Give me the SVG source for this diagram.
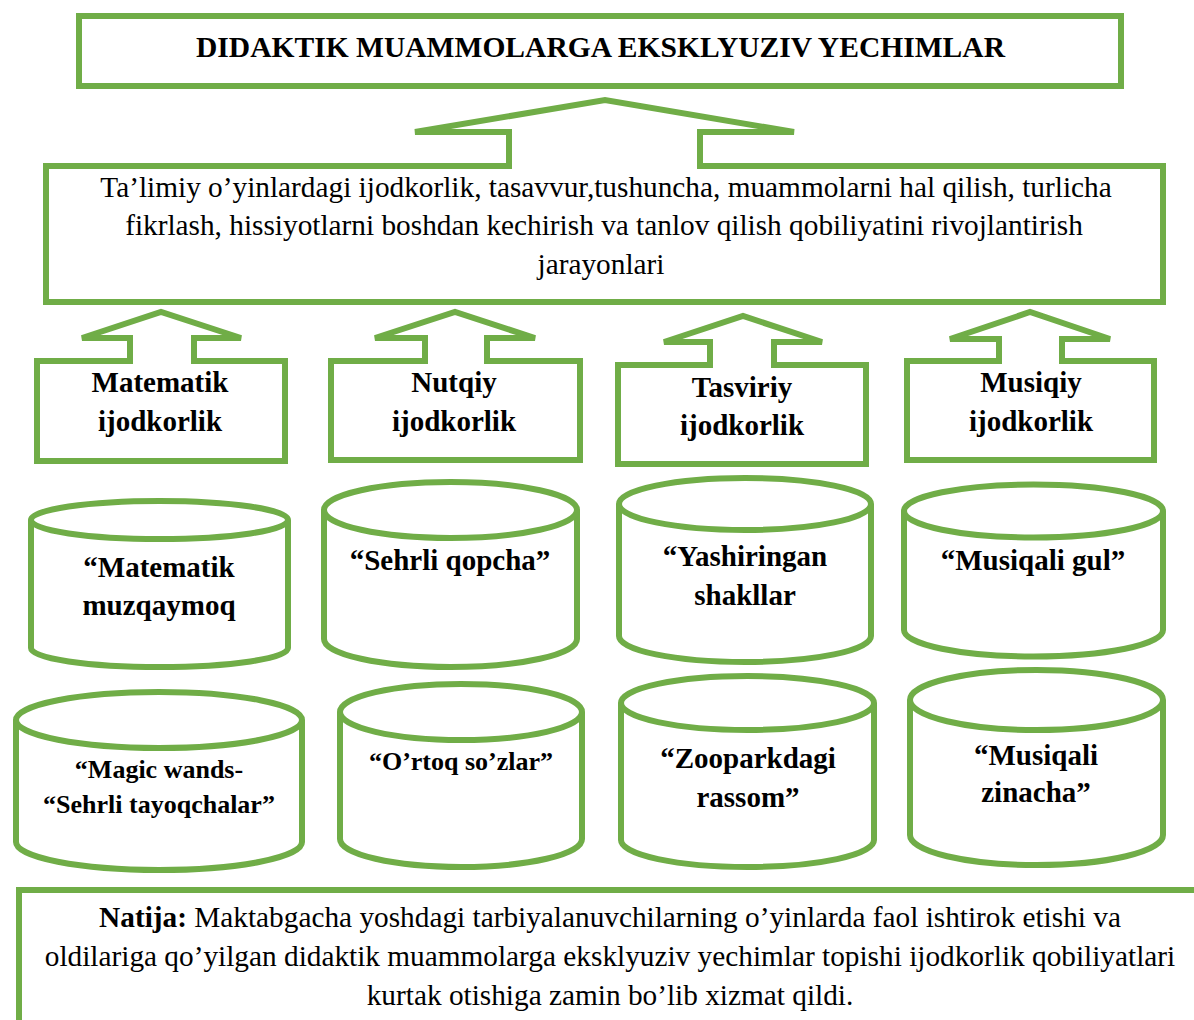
<svg xmlns="http://www.w3.org/2000/svg" width="1194" height="1020" viewBox="0 0 1194 1020">
<style>
.shp{fill:#fff;stroke:#70AD47;stroke-width:6;stroke-linejoin:miter;stroke-miterlimit:4}
text{font-family:Liberation Serif, Times New Roman, Times, serif;fill:#000;text-anchor:middle}
.b{font-weight:bold;font-size:29px}
.r{font-size:29.3px}
.s{font-weight:bold;font-size:26px}
</style>
<rect width="1194" height="1020" fill="#fff"/>
<g id="connectors"></g>
<g id="title">
<rect class="shp" x="79" y="16" width="1042" height="70"/>
<text class="b" x="600.5" y="57" textLength="809" lengthAdjust="spacingAndGlyphs">DIDAKTIK MUAMMOLARGA EKSKLYUZIV YECHIMLAR</text>
</g>
<g id="processes">
<path class="shp" d="M46,166 L509,166 L509,132 L415,132 L605,100 L794,132 L700,132 L700,166 L1163,166 L1163,302 L46,302 Z"/>
<text class="r" x="606" y="197">Ta’limiy o’yinlardagi ijodkorlik, tasavvur,tushuncha, muammolarni hal qilish, turlicha</text>
<text class="r" x="604" y="235">fikrlash, hissiyotlarni boshdan kechirish va tanlov qilish qobiliyatini rivojlantirish</text>
<text class="r" x="601" y="274">jarayonlari</text>
</g>
<g id="cat-matematik">
<path class="shp" d="M37,361 L130,361 L130,338 L82,338 L161,312 L241,338 L194,338 L194,361 L285,361 L285,461 L37,461 Z"/>
<text class="b" x="160" y="392">Matematik</text>
<text class="b" x="160" y="431">ijodkorlik</text>
</g>
<g id="cat-nutqiy">
<path class="shp" d="M331,361 L425,361 L425,338 L375,338 L455,312 L535,338 L487,338 L487,361 L580,361 L580,460 L331,460 Z"/>
<text class="b" x="454" y="392">Nutqiy</text>
<text class="b" x="454" y="431">ijodkorlik</text>
</g>
<g id="cat-tasviriy">
<path class="shp" d="M618,365 L710,365 L710,342 L664,342 L743,316 L822,342 L774,342 L774,365 L866,365 L866,464 L618,464 Z"/>
<text class="b" x="742" y="397">Tasviriy</text>
<text class="b" x="742" y="435">ijodkorlik</text>
</g>
<g id="cat-musiqiy">
<path class="shp" d="M907,361 L999,361 L999,339 L950,339 L1030,312 L1110,339 L1062,339 L1062,361 L1154,361 L1154,460 L907,460 Z"/>
<text class="b" x="1031" y="392">Musiqiy</text>
<text class="b" x="1031" y="431">ijodkorlik</text>
</g>
<g id="game-1">
<path class="shp" d="M31,520 L31,648 A128.5,19 0 0 0 288,648 L288,520"/>
<ellipse class="shp" cx="159.5" cy="520" rx="128.5" ry="19"/>
<text class="b" x="159" y="577">“Matematik</text>
<text class="b" x="159" y="615">muzqaymoq</text>
</g>
<g id="game-2">
<path class="shp" d="M324,510 L324,639 A126.5,28 0 0 0 577,639 L577,510"/>
<ellipse class="shp" cx="450.5" cy="510" rx="126.5" ry="28"/>
<text class="b" x="450" y="570">“Sehrli qopcha”</text>
</g>
<g id="game-3">
<path class="shp" d="M619,504 L619,636 A126,26 0 0 0 871,636 L871,504"/>
<ellipse class="shp" cx="745" cy="504" rx="126" ry="26"/>
<text class="b" x="745" y="566">“Yashiringan</text>
<text class="b" x="745" y="605">shakllar</text>
</g>
<g id="game-4">
<path class="shp" d="M904,511 L904,630 A129.5,26.5 0 0 0 1163,630 L1163,511"/>
<ellipse class="shp" cx="1033.5" cy="511" rx="129.5" ry="26.5"/>
<text class="b" x="1033" y="570">“Musiqali gul”</text>
</g>
<g id="game-5">
<path class="shp" d="M16,720 L16,842 A143,28 0 0 0 302,842 L302,720"/>
<ellipse class="shp" cx="159" cy="720" rx="143" ry="28"/>
<text class="s" x="159" y="778">“Magic wands-</text>
<text class="s" x="159" y="813">“Sehrli tayoqchalar”</text>
</g>
<g id="game-6">
<path class="shp" d="M340,712 L340,839 A121,28 0 0 0 582,839 L582,712"/>
<ellipse class="shp" cx="461" cy="712" rx="121" ry="28"/>
<text class="s" x="461" y="770">“O’rtoq so’zlar”</text>
</g>
<g id="game-7">
<path class="shp" d="M621,703 L621,840 A126.5,27 0 0 0 874,840 L874,703"/>
<ellipse class="shp" cx="747.5" cy="703" rx="126.5" ry="27"/>
<text class="b" x="748" y="768">“Zooparkdagi</text>
<text class="b" x="748" y="807">rassom”</text>
</g>
<g id="game-8">
<path class="shp" d="M910,700 L910,835 A126.5,30 0 0 0 1163,835 L1163,700"/>
<ellipse class="shp" cx="1036.5" cy="700" rx="126.5" ry="30"/>
<text class="b" x="1036" y="765">“Musiqali</text>
<text class="b" x="1036" y="802">zinacha”</text>
</g>
<g id="result">
<rect class="shp" x="19" y="890" width="1200" height="200"/>
<text class="r" x="610" y="927"><tspan font-weight="bold">Natija:</tspan> Maktabgacha yoshdagi tarbiyalanuvchilarning o’yinlarda faol ishtirok etishi va</text>
<text class="r" x="610" y="966">oldilariga qo’yilgan didaktik muammolarga eksklyuziv yechimlar topishi ijodkorlik qobiliyatlari</text>
<text class="r" x="610" y="1005">kurtak otishiga zamin bo’lib xizmat qildi.</text>
</g>
</svg>
